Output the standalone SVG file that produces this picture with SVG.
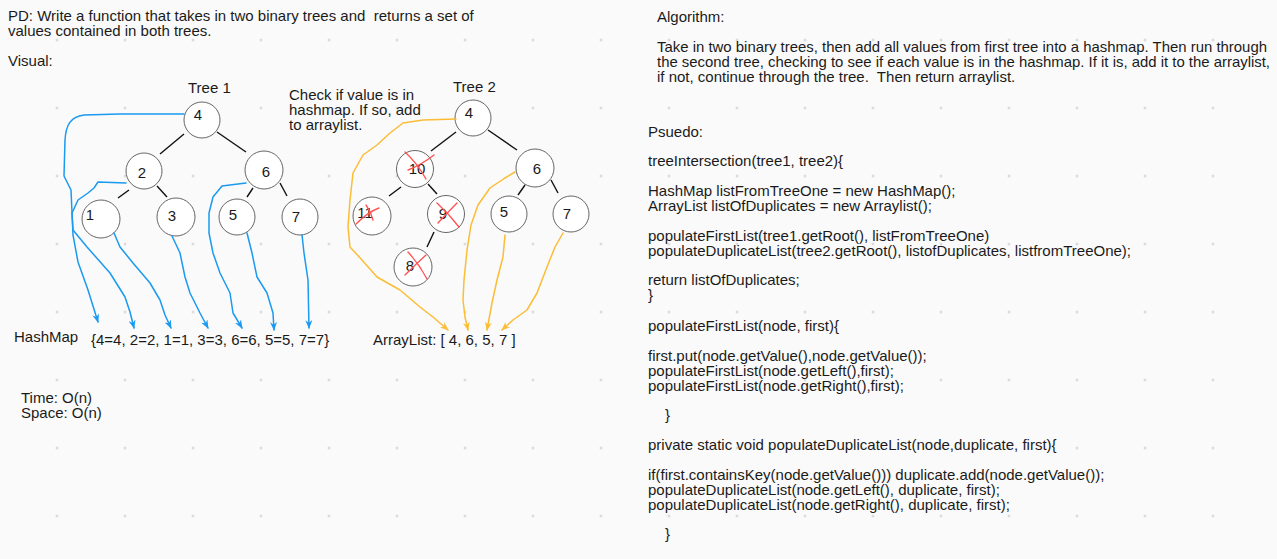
<svg xmlns="http://www.w3.org/2000/svg" width="1277" height="559" viewBox="0 0 1277 559">
<defs>
<style>
text{font-family:"Liberation Sans",Arial,sans-serif;font-size:15px;fill:#1a1a1a;white-space:pre}
.num{text-anchor:middle}
.node circle{fill:#fff;stroke:#666;stroke-width:1}
.edge{stroke:#111;stroke-width:1.4;fill:none}
.blue{stroke:#1a9af0;stroke-width:1.5;fill:none;stroke-linejoin:round;stroke-linecap:round;marker-end:url(#ab)}
.yel{stroke:#fbbd35;stroke-width:1.5;fill:none;stroke-linejoin:round;stroke-linecap:round;marker-end:url(#ay)}
.x{stroke:#f55;stroke-width:1.4;fill:none;stroke-linecap:round}
</style>
<marker id="ab" viewBox="0 0 10 8" refX="9" refY="4" markerWidth="9" markerHeight="7" markerUnits="userSpaceOnUse" orient="auto"><path d="M0,0 L10,4 L0,8 L3,4 Z" fill="#1a9af0"/></marker>
<marker id="ay" viewBox="0 0 10 8" refX="9" refY="4" markerWidth="9" markerHeight="7" markerUnits="userSpaceOnUse" orient="auto"><path d="M0,0 L10,4 L0,8 L3,4 Z" fill="#fbbd35"/></marker>
<pattern id="dots" x="0" y="0" width="68" height="68" patternUnits="userSpaceOnUse" patternTransform="translate(57,40)"><circle cx="0" cy="0" r="1.5" fill="#dcdcdc"/><circle cx="68" cy="0" r="1.5" fill="#dcdcdc"/><circle cx="0" cy="68" r="1.5" fill="#dcdcdc"/><circle cx="68" cy="68" r="1.5" fill="#dcdcdc"/></pattern>
</defs>
<rect width="1277" height="559" fill="#fafafa"/>
<rect x="40" y="20" width="1237" height="539" fill="url(#dots)"/>

<g id="header">
<text x="8" y="21" xml:space="preserve">PD: Write a function that takes in two binary trees and  returns a set of</text>
<text x="8" y="36">values contained in both trees.</text>
<text x="8" y="66">Visual:</text>
<text x="188" y="93">Tree 1</text>
<text x="453" y="92">Tree 2</text>
<text x="289" y="100">Check if value is in</text>
<text x="289" y="115">hashmap. If so, add</text>
<text x="289" y="130">to arraylist.</text>
</g>

<g id="algorithm">
<text x="657" y="22">Algorithm:</text>
<text x="657" y="52" textLength="610" lengthAdjust="spacingAndGlyphs">Take in two binary trees, then add all values from first tree into a hashmap. Then run through</text>
<text x="657" y="67" textLength="613" lengthAdjust="spacingAndGlyphs">the second tree, checking to see if each value is in the hashmap. If it is, add it to the arraylist,</text>
<text x="657" y="82" xml:space="preserve">if not, continue through the tree.  Then return arraylist.</text>
</g>

<g id="pseudo">
<text x="648" y="137">Psuedo:</text>
<text x="648" y="166">treeIntersection(tree1, tree2){</text>
<text x="648" y="196">HashMap listFromTreeOne = new HashMap();</text>
<text x="648" y="211">ArrayList listOfDuplicates = new Arraylist();</text>
<text x="648" y="241">populateFirstList(tree1.getRoot(), listFromTreeOne)</text>
<text x="648" y="256">populateDuplicateList(tree2.getRoot(), listofDuplicates, listfromTreeOne);</text>
<text x="648" y="285">return listOfDuplicates;</text>
<text x="648" y="300">}</text>
<text x="648" y="331">populateFirstList(node, first){</text>
<text x="648" y="361">first.put(node.getValue(),node.getValue());</text>
<text x="648" y="376">populateFirstList(node.getLeft(),first);</text>
<text x="648" y="391">populateFirstList(node.getRight(),first);</text>
<text x="665" y="420">}</text>
<text x="648" y="450">private static void populateDuplicateList(node,duplicate, first){</text>
<text x="648" y="480">if(first.containsKey(node.getValue())) duplicate.add(node.getValue());</text>
<text x="648" y="495">populateDuplicateList(node.getLeft(), duplicate, first);</text>
<text x="648" y="510">populateDuplicateList(node.getRight(), duplicate, first);</text>
<text x="665" y="539">}</text>
</g>

<g id="tree1-edges">
<line class="edge" x1="184" y1="134" x2="160" y2="154"/>
<line class="edge" x1="217" y1="132" x2="246" y2="152"/>
<line class="edge" x1="129" y1="190" x2="118" y2="198"/>
<line class="edge" x1="157" y1="186" x2="167" y2="197"/>
<line class="edge" x1="253" y1="188" x2="247" y2="197"/>
<line class="edge" x1="280" y1="183" x2="287" y2="196"/>
</g>
<g id="tree2-edges">
<line class="edge" x1="456" y1="132" x2="431" y2="151"/>
<line class="edge" x1="488" y1="130" x2="517" y2="150"/>
<line class="edge" x1="401" y1="187" x2="389" y2="196"/>
<line class="edge" x1="428" y1="184" x2="437" y2="194"/>
<line class="edge" x1="525" y1="185" x2="518" y2="195"/>
<line class="edge" x1="551" y1="180" x2="558" y2="193"/>
<line class="edge" x1="434" y1="232" x2="427" y2="247"/>
</g>

<g id="t1-n4" class="node"><circle cx="202" cy="120" r="18"/><text class="num" x="198" y="120">4</text></g>
<g id="t1-n2" class="node"><circle cx="144" cy="171" r="18"/><text class="num" x="142" y="178">2</text></g>
<g id="t1-n6" class="node"><circle cx="264" cy="170" r="19"/><text class="num" x="266" y="177">6</text></g>
<g id="t1-n1" class="node"><circle cx="101" cy="219" r="19"/><text class="num" x="90" y="220">1</text></g>
<g id="t1-n3" class="node"><circle cx="176" cy="217" r="19"/><text class="num" x="172" y="221">3</text></g>
<g id="t1-n5" class="node"><circle cx="237" cy="217" r="18"/><text class="num" x="233" y="220">5</text></g>
<g id="t1-n7" class="node"><circle cx="300" cy="217" r="18"/><text class="num" x="296" y="222">7</text></g>

<g id="t2-n4" class="node"><circle cx="473" cy="118" r="18"/><text class="num" x="469" y="118">4</text></g>
<g id="t2-n10" class="node"><circle cx="415" cy="169" r="18.5"/><text class="num" x="417" y="174">10</text>
<path class="x" d="M405,152 Q417,163 426,179"/><path class="x" d="M408,170 Q421,165 434,155"/></g>
<g id="t2-n6" class="node"><circle cx="535" cy="168" r="19"/><text class="num" x="537" y="174">6</text></g>
<g id="t2-n11" class="node"><circle cx="372" cy="216" r="19"/><text class="num" x="365" y="218">11</text>
<path class="x" d="M366,205 Q371,212 373,220"/><path class="x" d="M356,224 Q368,212 379,208"/></g>
<g id="t2-n9" class="node"><circle cx="446" cy="214" r="18.5"/><text class="num" x="443" y="219">9</text>
<path class="x" d="M437,203 Q449,214 459,227"/><path class="x" d="M438,223 Q448,212 457,203"/></g>
<g id="t2-n5" class="node"><circle cx="509" cy="214" r="18"/><text class="num" x="504" y="217">5</text></g>
<g id="t2-n7" class="node"><circle cx="571" cy="214" r="18"/><text class="num" x="567" y="219">7</text></g>
<g id="t2-n8" class="node"><circle cx="413" cy="267" r="19"/><text class="num" x="410" y="271">8</text>
<path class="x" d="M408,252 Q419,264 427,279"/><path class="x" d="M405,275 Q416,264 426,255"/></g>

<g id="labels">
<text x="14" y="342">HashMap</text>
<text x="91" y="345">{4=4, 2=2, 1=1, 3=3, 6=6, 5=5, 7=7}</text>
<text x="373" y="345">ArrayList: [ 4, 6, 5, 7 ]</text>
<text x="21" y="403">Time: O(n)</text>
<text x="21" y="418">Space: O(n)</text>
</g>

<g id="connectors">
<path class="blue" d="M184,114 L120,114 L84,115 C70,117 66,125 65,140 L64,176 L71,190 L73,235 L78,262 L88,290 L98,322"/>
<path class="blue" d="M126,183 L98,182 L94,188 L88,193 L78,200 L72,213 L73,230 L87,247 L110,273 L125,297 L130,312 L134,328"/>
<path class="blue" d="M114,233 L120,247 L133,263 L150,283 L160,300 L165,315 L171,328"/>
<path class="blue" d="M172,236 L180,253 L185,277 L190,293 L200,313 L208,328"/>
<path class="blue" d="M246,183 L222,186 L213,197 L209,213 L209,233 L213,253 L220,273 L230,293 L233,313 L242,328"/>
<path class="blue" d="M247,233 L252,253 L257,277 L267,293 L273,313 L274,330"/>
<path class="blue" d="M302,235 L304,253 L308,280 L309,328"/>
<path class="yel" d="M456,119 L423,120 L403,123 L390,133 L377,145 L363,155 L353,173 L350,200 L348,227 L350,247 L362,260 L377,277 L400,290 L420,307 L433,317 L448,330"/>
<path class="yel" d="M515,172 L505,178 L490,188 L478,205 L471,225 L467,250 L464,280 L463,300 L465,317 L468,330"/>
<path class="yel" d="M505,235 L503,257 L497,280 L492,303 L487,330"/>
<path class="yel" d="M563,233 L555,247 L547,267 L537,293 L527,310 L513,320 L502,330"/>
</g>
</svg>
